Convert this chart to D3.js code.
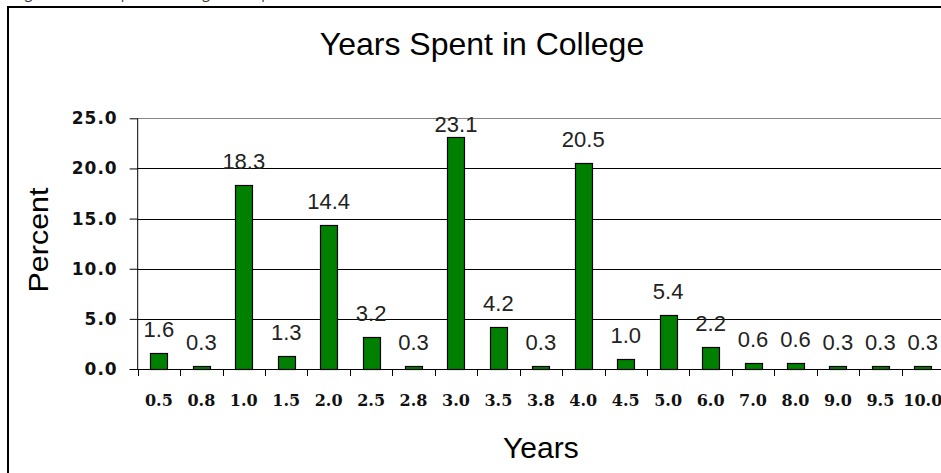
<!DOCTYPE html>
<html lang="en">
<head>
	<meta charset="utf-8">
	<title>Years Spent in College</title>
	<script src="https://cdn.jsdelivr.net/npm/d3@7"></script>
	<style type="text/css">
		body { margin: 0; background: #fff; overflow: hidden; }
		.ylab text { font-family: "DejaVu Sans", sans-serif; font-weight: bold; font-size: 17px; letter-spacing: 1px; fill: #111; }
		.xlab text { font-family: "DejaVu Serif", serif; font-weight: bold; font-size: 16px; fill: #111; }
		.vlab text { font-family: "Liberation Sans", Arial, sans-serif; font-size: 22px; fill: #222; }
	</style>
</head>
<body>
<script type="text/javascript">

// Data
var years = ["0.5", "0.8", "1.0", "1.5", "2.0", "2.5", "2.8", "3.0", "3.5", "3.8",
             "4.0", "4.5", "5.0", "6.0", "7.0", "8.0", "9.0", "9.5", "10.0"];
var percent = [1.6, 0.3, 18.3, 1.3, 14.4, 3.2, 0.3, 23.1, 4.2, 0.3,
               20.5, 1.0, 5.4, 2.2, 0.6, 0.6, 0.3, 0.3, 0.3];
var yTicks = [0, 5, 10, 15, 20, 25];

var width = 941, height = 473;
var plot = {left: 137.7, right: 944, top: 118.3, bottom: 369};

var svg = d3.select("body").append("svg")
	.attr("width", width)
	.attr("height", height);

// caption, cut off at the top of the page
svg.append("text")
	.attr("x", 14)
	.attr("y", -2)
	.attr("font-family", "Open Sans, sans-serif")
	.attr("font-size", 14)
	.attr("fill", "#333")
	.text("Figure 1: Years Spent in College of Respondents");

// chart frame
svg.append("rect")
	.attr("x", 8).attr("y", 7)
	.attr("width", 1000).attr("height", 500)
	.attr("fill", "none")
	.attr("stroke", "#000")
	.attr("stroke-width", 2);

var x = d3.scaleBand()
	.domain(years)
	.range([plot.left, plot.right])
	.paddingInner(0.6)
	.paddingOuter(0.3);

var y = d3.scaleLinear()
	.domain([0, 25])
	.range([plot.bottom, plot.top]);

// gridlines
svg.append("g").selectAll("line")
	.data(yTicks.filter(function(d) { return d > 0; }))
	.enter().append("line")
	.attr("x1", plot.left).attr("x2", plot.right)
	.attr("y1", function(d) { return Math.round(y(d)) + 0.5; })
	.attr("y2", function(d) { return Math.round(y(d)) + 0.5; })
	.attr("stroke", function(d) { return d == 25 ? "#888" : "#000"; })
	.attr("stroke-width", 1);

// y axis
var yAxis = svg.append("g")
	.attr("class", "ylab")
	.attr("transform", "translate(" + plot.left + ",0)")
	.call(d3.axisLeft(y).tickValues(yTicks).tickSize(8).tickPadding(12)
		.tickFormat(d3.format(".1f")));
yAxis.select(".domain").remove();
yAxis.selectAll("line").attr("stroke", "#000");
svg.append("line")
	.attr("x1", plot.left).attr("x2", plot.left)
	.attr("y1", plot.top).attr("y2", plot.bottom)
	.attr("stroke", "#000");

// bars
svg.append("g").selectAll("rect")
	.data(percent)
	.enter().append("rect")
	.attr("x", function(d, i) { return Math.round(x(years[i])) + 0.5; })
	.attr("y", function(d) { return Math.round(y(d)) + 0.5; })
	.attr("width", x.bandwidth())
	.attr("height", function(d) { return Math.round(y(0)) - Math.round(y(d)); })
	.attr("fill", "#008000")
	.attr("stroke", "#000")
	.attr("stroke-width", 1.2);

// x axis line and ticks between categories
svg.append("line")
	.attr("x1", plot.left - 8).attr("x2", plot.right)
	.attr("y1", Math.round(plot.bottom) + 0.5).attr("y2", Math.round(plot.bottom) + 0.5)
	.attr("stroke", "#000");
svg.append("g").selectAll("line")
	.data(years)
	.enter().append("line")
	.attr("x1", function(d) { return Math.round(x(d) - x.step() * x.paddingOuter()) + 0.5; })
	.attr("x2", function(d) { return Math.round(x(d) - x.step() * x.paddingOuter()) + 0.5; })
	.attr("y1", plot.bottom).attr("y2", plot.bottom + 7)
	.attr("stroke", "#000");

// category labels
svg.append("g").attr("class", "xlab").selectAll("text")
	.data(years)
	.enter().append("text")
	.attr("x", function(d) { return x(d) + x.bandwidth() / 2; })
	.attr("y", 406)
	.attr("text-anchor", "middle")
	.text(function(d) { return d; });

// value labels
svg.append("g").attr("class", "vlab").selectAll("text")
	.data(percent)
	.enter().append("text")
	.attr("x", function(d, i) { return x(years[i]) + x.bandwidth() / 2; })
	.attr("y", function(d) { return Math.max(y(d) - 16, 132); })
	.attr("text-anchor", "middle")
	.text(function(d) { return d.toFixed(1); });

// titles
svg.append("text")
	.attr("x", 482).attr("y", 55)
	.attr("text-anchor", "middle")
	.attr("font-family", "Liberation Sans, Arial, sans-serif")
	.attr("font-size", 32)
	.text("Years Spent in College");

svg.append("text")
	.attr("x", (plot.left + plot.right) / 2).attr("y", 458)
	.attr("text-anchor", "middle")
	.attr("font-family", "Liberation Sans, Arial, sans-serif")
	.attr("font-size", 30)
	.text("Years");

svg.append("text")
	.attr("transform", "translate(48,240)rotate(-90)")
	.attr("text-anchor", "middle")
	.attr("font-family", "Liberation Sans, Arial, sans-serif")
	.attr("font-size", 27)
	.attr("textLength", 105)
	.attr("lengthAdjust", "spacingAndGlyphs")
	.text("Percent");

</script>
</body>
</html>
